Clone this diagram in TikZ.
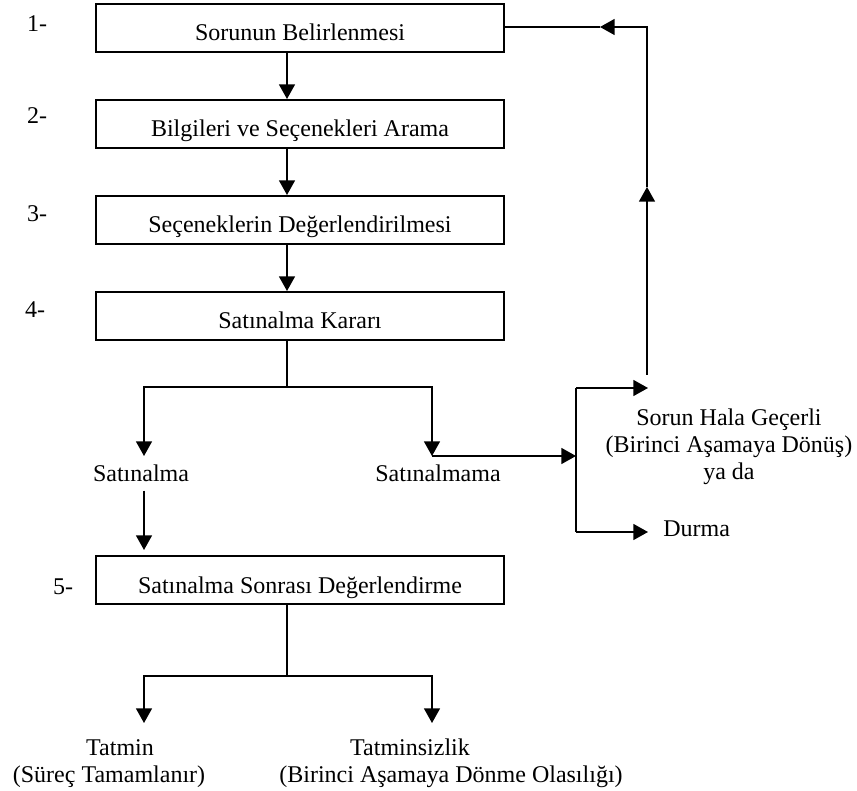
\documentclass[tikz,border=0pt]{standalone}
\usepackage{fontspec}
\setmainfont{Liberation Serif}
\usetikzlibrary{arrows.meta,positioning}

\begin{document}
\begin{tikzpicture}[x=0.75pt, y=-0.75pt, font=\fontsize{18}{20}\selectfont,
    asama/.style={draw, line width=1.5pt, minimum width=306pt, minimum height=36pt,
        inner sep=0pt, text height=19.5pt, text depth=0pt},
    yazi/.style={inner sep=0pt},
    ok/.style={line width=1.1pt, -{Triangle[width=12pt,length=11pt]}},
    cizgi/.style={line width=1.1pt}]
    \useasboundingbox (0,0) rectangle (857,791);
    \coordinate (eksen) at (287,0);

    % Steps
    \node[asama] (asama1) at (300,28) {Sorunun Belirlenmesi};
    \node[asama] (asama2) at (300,124) {Bilgileri ve Seçenekleri Arama};
    \node[asama] (asama3) at (300,220) {Seçeneklerin Değerlendirilmesi};
    \node[asama] (asama4) at (300,316) {Satınalma Kararı};
    \node[asama] (asama5) at (300,580) {Satınalma Sonrası Değerlendirme};

    \foreach \i/\x/\y in {1/37/32, 2/37/124, 3/37/222, 4/35/318, 5/63/594}
        \node[anchor=base] (no\i) at (\x,\y) {\i-};

    \foreach \a/\b in {1/2, 2/3, 3/4}
        \draw[ok] (asama\a.south -| eksen) -- (asama\b.north -| eksen);

    % Decision
    \node[yazi, anchor=base] (satinalma) at (141,482) {Satınalma};
    \node[yazi, anchor=base] (satinalmama) at (438,482) {Satınalmama};
    \coordinate (ayrim) at (287,387);
    \coordinate (evet) at (144,456);
    \coordinate (hayir) at (432,456);
    \coordinate (secim) at (576,456);
    \draw[cizgi] (asama4.south -| eksen) -- (ayrim);
    \draw[ok] (ayrim) -| (evet);
    \draw[ok] (ayrim) -| (hayir);
    \draw[ok] (hayir) -- (secim);
    \draw[ok, shorten <=6pt, shorten >=3.75pt] (satinalma.south -| evet) -- (asama5.north -| evet);

    % Right branch
    \coordinate (ust) at (576,388);
    \coordinate (alt) at (576,532);
    \coordinate (geri) at (648,388);
    \draw[cizgi] (ust) -- (alt);
    \draw[ok] (ust) -- (geri);
    \node[yazi, anchor=base west] (durma) at (663,537) {Durma};
    \draw[ok, shorten >=11.25pt] (alt) -- (alt -| durma.west);
    \node[yazi, anchor=north, align=center] (sorun) at (729,409)
        {Sorun Hala Geçerli\\(Birinci Aşamaya Dönüş)\\ya da};

    % Back to step 1
    \coordinate (d1) at (647,375);
    \coordinate (d2) at (647,187);
    \coordinate (d3) at (647,27);
    \coordinate (d4) at (600,27);
    \draw[ok] (d1) -- (d2);
    \draw[ok] (d2) -- (d3) -- (d4);
    \draw[cizgi] (d4) -- (d4 -| asama1.east);

    % Result
    \coordinate (ayrim2) at (287,676);
    \coordinate (evet2) at (144,723);
    \coordinate (hayir2) at (432,723);
    \draw[cizgi] (asama5.south -| eksen) -- (ayrim2);
    \draw[ok] (ayrim2) -| (evet2);
    \draw[ok] (ayrim2) -| (hayir2);
    \node[yazi, anchor=base] (tatmin) at (120,755) {Tatmin};
    \node[yazi, anchor=base] (tatminacik) at (109,782) {(Süreç Tamamlanır)};
    \node[yazi, anchor=base] (tatminsizlik) at (410,755) {Tatminsizlik};
    \node[yazi, anchor=base] (tatminsizlikacik) at (451,782) {(Birinci Aşamaya Dönme Olasılığı)};
\end{tikzpicture}
\end{document}
